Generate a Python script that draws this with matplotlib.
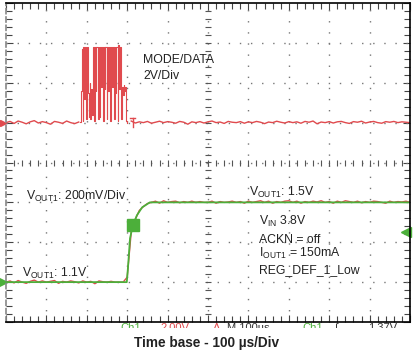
import matplotlib
matplotlib.use('Agg')
import matplotlib.pyplot as plt
import numpy as np
from matplotlib.ticker import MultipleLocator
from matplotlib.patches import Rectangle

plt.rcParams['font.family'] = ['Liberation Sans', 'DejaVu Sans']

# ── Data (time in us, 100 us/div) ────────────────────────────────────────────
# MODE/DATA channel (2 V/div), step trace during the burst
burst_t = [183, 186, 188, 190, 191, 193, 195, 198, 200, 203, 205, 207, 209, 211,
           213, 215, 218, 220, 222, 224, 227, 229, 231, 233, 235, 237, 240, 242,
           244, 246, 249, 251, 253, 255, 258, 260, 262, 264, 267, 269, 271, 273,
           276, 278, 280, 282, 284, 286, 289, 291, 293, 295, 297, 300]
burst_v = [0.05, 1.6, 3.7, 0.1, 3.8, 1.2, 3.8, 0.2, 3.8, 1.5, 0.3, 2.0, 0.2, 1.7,
           0.4, 3.8, 0.1, 3.8, 1.6, 3.8, 0.2, 3.8, 0.3, 3.8, 1.8, 3.8, 0.1, 3.8,
           1.7, 3.8, 0.2, 3.8, 1.6, 3.8, 0.1, 3.8, 1.8, 3.8, 0.2, 3.8, 1.5, 3.8,
           0.1, 3.9, 1.7, 3.8, 0.2, 1.8, 1.4, 1.9, 1.6, 1.8, 0.1, 0.0]
# idle MODE/DATA noise, every 10 us
idle_t = list(range(0, 1001, 10))
idle_v = [0.00, 0.06, -0.04, 0.08, 0.02, -0.06, 0.04, 0.10, -0.02, 0.05,
          0.00, -0.08, 0.06, 0.02, -0.04, 0.08, 0.00, -0.05, 0.03, 0.00,
          0.05, 0.02, -0.03, 0.06, 0.00, -0.04, 0.04, 0.02, 0.00, 0.05,
          0.02, 0.08, -0.02, 0.04, 0.00, 0.06, -0.03, 0.02, 0.07, 0.00,
          0.05, 0.02, -0.03, 0.06, 0.02, -0.08, 0.04, 0.00, 0.05, -0.02,
          0.04, 0.08, 0.00, 0.03, -0.04, 0.06, 0.02, 0.00, 0.05, -0.03,
          0.04, 0.00, 0.06, 0.02, -0.05, 0.03, 0.00, 0.07, 0.02, -0.02,
          0.05, 0.00, 0.04, -0.03, 0.06, 0.02, 0.08, -0.06, 0.03, 0.00,
          0.05, -0.02, 0.04, 0.06, 0.00, -0.04, 0.05, 0.02, 0.07, -0.02,
          0.03, 0.06, 0.00, -0.03, 0.05, 0.02, 0.06, 0.00, 0.04, 0.02, 0.00]

# VOUT1 channel (200 mV/div)
vout_t = [0, 299, 302, 307, 314, 324, 337, 356, 1000]
vout_v = [1.10, 1.10, 1.175, 1.32, 1.385, 1.435, 1.475, 1.50, 1.50]
ripple_v = [0.000, 0.006, -0.004, 0.008, 0.000, -0.006, 0.004, 0.010, 0.000, 0.006,
            0.000, 0.004, 0.008, -0.006, 0.004, 0.000, 0.006, 0.002, -0.004, 0.006,
            0.000, 0.004, -0.008, 0.006, 0.002, 0.000, 0.004, 0.000, 0.000, 0.000,
            0.000, 0.004, 0.000, 0.006, 0.000, 0.002, 0.000, 0.006, -0.004, 0.008,
            0.000, 0.004, 0.006, -0.002, 0.004, 0.000, 0.006, 0.000, 0.004, 0.000,
            0.000, 0.006, -0.004, 0.004, 0.000, 0.002, 0.006, 0.000, 0.004, -0.004,
            0.006, 0.000, 0.004, 0.008, 0.000, 0.006, -0.004, 0.004, 0.000, 0.006,
            0.008, 0.000, 0.006, -0.004, 0.004, 0.000, 0.006, 0.002, 0.008, 0.000,
            0.004, -0.004, 0.006, 0.000, 0.008, 0.004, 0.000, 0.006, -0.002, 0.004,
            0.000, 0.006, 0.004, 0.000, -0.004, 0.006, 0.000, 0.004, 0.002, 0.006, 0.000]

US_DIV = 100.0
MODE_VDIV, MODE_OFS = 2.0, 1.0      # 0 V sits 1 div above centre
VOUT_VDIV, VOUT_CTR = 0.2, 1.7      # centre of screen = 1.7 V

RED = '#e04a4e'
GREEN = '#4caf3a'

W, H = 413, 356
def fx(px): return px / W
def fy(py): return 1 - py / H

fig = plt.figure(figsize=(W / 100, H / 100), dpi=100)
ax = fig.add_axes([fx(6), fy(322), fx(410) - fx(6), fy(3) - fy(322)])
ax.set_xlim(0, 10)
ax.set_ylim(-4, 4)

# graticule
for i in range(1, 10):
    ax.axvline(i, color='#777777', lw=1.0, ls=(0, (1, 7)))
for j in range(-3, 4):
    ax.axhline(j, color='#777777', lw=1.0, ls=(0, (1, 7)))
cx = np.arange(0.2, 10, 0.2)
cy = np.arange(-3.8, 4, 0.2)
ax.plot(cx, np.zeros_like(cx), ls='none', marker='|', ms=4, mew=0.8, color='#555555')
ax.plot(np.full_like(cy, 5), cy, ls='none', marker='_', ms=4, mew=0.8, color='#555555')

ax.xaxis.set_major_locator(MultipleLocator(1))
ax.xaxis.set_minor_locator(MultipleLocator(0.2))
ax.yaxis.set_major_locator(MultipleLocator(1))
ax.yaxis.set_minor_locator(MultipleLocator(0.2))
ax.tick_params(which='both', direction='in', top=True, right=True,
               labelbottom=False, labelleft=False, color='#444444')
ax.tick_params(which='major', length=5, width=0.8)
ax.tick_params(which='minor', length=4, width=0.8)
for s in ax.spines.values():
    s.set_linewidth(1.2)
ax.spines['left'].set_color('#888888')
ax.spines['left'].set_linestyle((0, (3, 2)))

# MODE/DATA trace
it = np.array(idle_t, float)
iv = np.array(idle_v, float)
pre = it < burst_t[0]
post = it > burst_t[-1]
ax.plot(it[pre] / US_DIV, iv[pre] / MODE_VDIV + MODE_OFS, color=RED, lw=1.0)
ax.plot(np.array(burst_t) / US_DIV, np.array(burst_v) / MODE_VDIV + MODE_OFS,
        color=RED, lw=0.8, drawstyle='steps-post')
ax.plot(it[post] / US_DIV, iv[post] / MODE_VDIV + MODE_OFS, color=RED, lw=1.0)

# trigger cursor
tt = 314 / US_DIV
ax.plot([tt, tt], [0.88, 1.12], color=RED, lw=1.0)
ax.plot([tt - 0.06, tt + 0.06], [1.12, 1.12], color=RED, lw=1.0)

# VOUT1 trace (red ripple underneath, green on top)
vt = np.array(idle_t, float)
vv = np.interp(vt, vout_t, vout_v)
ax.plot(vt / US_DIV, (vv + np.array(ripple_v) - VOUT_CTR) / VOUT_VDIV, color=RED, lw=1.0)
ax.plot(np.array(vout_t) / US_DIV, (np.array(vout_v) - VOUT_CTR) / VOUT_VDIV,
        color=GREEN, lw=1.3)

# markers
ax.plot(314 / US_DIV, (1.385 - VOUT_CTR) / VOUT_VDIV, marker='s', ms=8,
        color=GREEN, mec=GREEN)
ax.plot(-0.07, (1.1 - VOUT_CTR) / VOUT_VDIV, marker='>', ms=6, color=GREEN, clip_on=False)
ax.plot(-0.07, MODE_OFS, marker='>', ms=4, color=RED, clip_on=False)
ax.plot(9.9, -1.75, marker='<', ms=7, color=GREEN, clip_on=False)

# annotations
fs = 8.8
def lbl(px, py, s):
    fig.text(fx(px), fy(py), s, fontsize=fs, color='#222222', va='baseline', ha='left')

lbl(143, 63, 'MODE/DATA')
lbl(143, 79, '2V/Div')
lbl(26, 200, r'$\mathregular{V_{OUT1}}$: 200mV/Div')
lbl(22, 277, r'$\mathregular{V_{OUT1}}$: 1.1V')
lbl(249, 196, r'$\mathregular{V_{OUT1}}$: 1.5V')
lbl(259, 225, r'$\mathregular{V_{IN}}$ 3.8V')
lbl(259, 243, 'ACKN = off')
lbl(259, 257, r'$\mathregular{I_{OUT1}}$ = 150mA')
lbl(259, 273, 'REG_DEF_1_Low')

# cut-off scope status line
status = [(120, 'Ch1', GREEN), (160, '2.00V', RED), (213, 'A', RED),
          (227, 'M 100µs', '#333333'), (302, 'Ch1', GREEN), (335, '∫', '#333333'),
          (368, '1.37V', '#333333')]
for px, s, c in status:
    fig.text(fx(px), fy(323), s, fontsize=8, color=c, va='top', ha='left', zorder=1)
fig.patches.append(Rectangle((0, fy(337)), 1, fy(327.5) - fy(337), transform=fig.transFigure,
                             facecolor='white', edgecolor='none', zorder=5))

fig.text(0.5, fy(343), 'Time base - 100 µs/Div', fontsize=9.8, fontweight='bold',
         ha='center', va='center', color='#222222', zorder=10)

fig.savefig('out.png', dpi=100)
